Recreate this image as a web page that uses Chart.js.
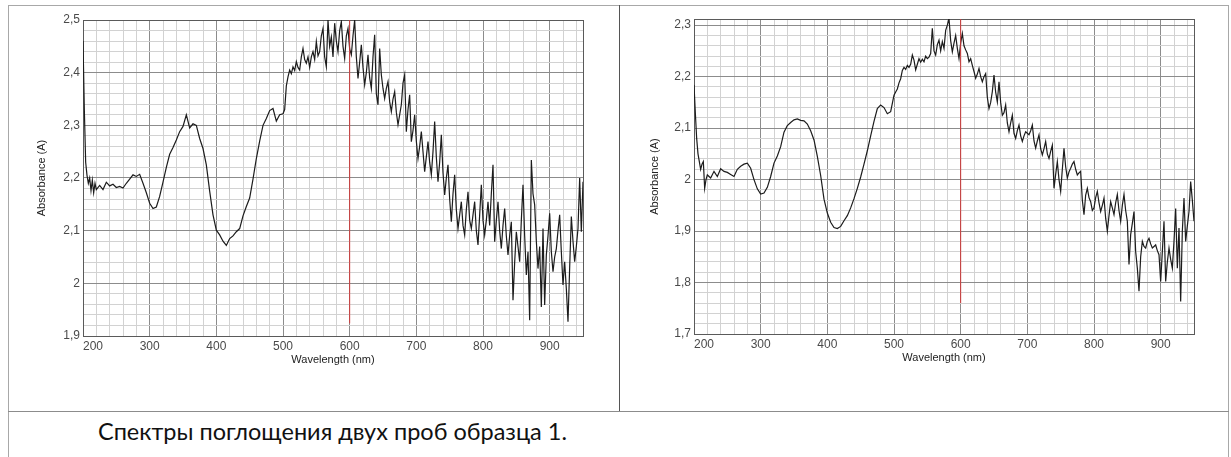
<!DOCTYPE html>
<html>
<head>
<meta charset="utf-8">
<script src="https://cdn.jsdelivr.net/npm/chart.js@4.4.0/dist/chart.umd.min.js"></script>
<style>
  html, body { margin: 0; padding: 0; background: #fff; }
  body { width: 1231px; height: 457px; position: relative; overflow: hidden; }
  .box { position: absolute; width: 610px; height: 380px; top: 0; }
  .line { position: absolute; background: #a8a8a8; z-index: 2; }
  #caption {
    position: absolute; left: 98px; top: 417px;
    font-family: Lato, "Noto Sans", sans-serif; font-size: 23.5px; color: #111;
    white-space: nowrap;
  }
</style>
</head>
<body>
<div class="line" style="left:8px;top:5px;width:1221px;height:1px;"></div>
<div class="line" style="left:8px;top:5px;width:1px;height:452px;"></div>
<div class="line" style="left:1228px;top:5px;width:1px;height:452px;"></div>
<div class="line" style="left:619px;top:5px;width:1px;height:406px;background:#555;"></div>
<div class="line" style="left:8px;top:411px;width:1221px;height:1px;background:#8c8c8c;"></div>

<div class="box" style="left:0;"><canvas id="chartA" width="610" height="380"></canvas></div>
<div class="box" style="left:611px;"><canvas id="chartB" width="610" height="380"></canvas></div>

<div id="caption">Спектры поглощения двух проб образца 1.</div>

<script>
// wavelengths (nm) shared by both spectra
const wavelength = [
  200, 202, 204, 206, 208, 210, 212, 214, 216, 218, 220,
  225, 230, 235, 240, 245, 250, 255, 260, 265, 270,
  275, 280, 285, 290, 295, 300, 305, 310, 315, 320,
  325, 330, 335, 340, 345, 350, 355, 360, 365, 370,
  375, 380, 385, 390, 395, 400, 405, 410, 415, 420,
  425, 430, 435, 440, 445, 450, 455, 460, 465, 470,
  475, 480, 485, 490, 495,
  500, 502.5, 505, 507.5, 510, 512.5, 515, 517.5, 520, 522.5,
  525, 527.5, 530, 532.5, 535, 537.5, 540, 542.5, 545, 547.5,
  550, 552.5, 555, 557.5, 560, 562.5, 565, 567.5, 570, 572.5,
  575, 577.5, 580, 582.5, 585, 587.5, 590, 592.5, 595, 597.5,
  600, 602.5, 605, 607.5, 610, 612.5, 615, 617.5, 620, 622.5,
  625, 627.5, 630, 632.5, 635, 637.5, 640, 642.5, 645, 647.5,
  650, 652.5, 655, 657.5, 660, 662.5, 665, 667.5, 670, 672.5,
  675, 677.5, 680, 682.5, 685, 687.5, 690, 692.5, 695, 697.5,
  700, 702.5, 705, 707.5, 710, 712.5, 715, 717.5, 720, 722.5,
  725, 727.5, 730, 732.5, 735, 737.5, 740, 742.5, 745, 747.5,
  750, 752.5, 755, 757.5, 760, 762.5, 765, 767.5, 770, 772.5,
  775, 777.5, 780, 782.5, 785, 787.5, 790, 792.5, 795, 797.5,
  800, 802.5, 805, 807.5, 810, 812.5, 815, 817.5, 820, 822.5,
  825, 827.5, 830, 832.5, 835, 837.5, 840, 842.5, 845, 847.5,
  850, 852.5, 855, 857.5, 860, 862.5, 865, 867.5, 870, 872.5,
  875, 877.5, 880, 882.5, 885, 887.5, 890, 892.5, 895, 897.5,
  900, 902.5, 905, 907.5, 910, 912.5, 915, 917.5, 920, 922.5,
  925, 927.5, 930, 932.5, 935, 937.5, 940, 942.5, 945, 947.5,
  950
];

// sample 1 absorbance
const absA = [
  2.46, 2.33, 2.23, 2.205, 2.19, 2.2, 2.176, 2.196, 2.172, 2.19, 2.178,
  2.186, 2.178, 2.192, 2.185, 2.188, 2.182, 2.184, 2.181, 2.19, 2.198,
  2.206, 2.203, 2.207, 2.19, 2.172, 2.152, 2.142, 2.145, 2.165, 2.192,
  2.22, 2.245, 2.258, 2.272, 2.288, 2.298, 2.32, 2.295, 2.303, 2.3,
  2.275, 2.256, 2.225, 2.175, 2.13, 2.101, 2.092, 2.08, 2.072, 2.085,
  2.09, 2.098, 2.104, 2.128, 2.146, 2.162, 2.198, 2.237, 2.27, 2.3,
  2.313, 2.328, 2.332, 2.308, 2.32,
  2.322, 2.33, 2.375, 2.392, 2.405, 2.398, 2.411, 2.404, 2.421, 2.41,
  2.405, 2.43, 2.446, 2.425, 2.418, 2.43, 2.41, 2.43, 2.44, 2.425,
  2.459, 2.432, 2.44, 2.47, 2.484, 2.43, 2.411, 2.5, 2.45, 2.468,
  2.43, 2.494, 2.46, 2.44, 2.48, 2.497, 2.45, 2.427, 2.47, 2.484,
  2.445, 2.434, 2.47, 2.5, 2.43, 2.389, 2.42, 2.453, 2.41, 2.377,
  2.4, 2.434, 2.39, 2.37, 2.43, 2.472, 2.36, 2.339, 2.446, 2.396,
  2.37, 2.351, 2.37, 2.383, 2.345, 2.326, 2.35, 2.364, 2.325, 2.301,
  2.32, 2.339, 2.38, 2.396, 2.288, 2.33, 2.358, 2.269, 2.29, 2.32,
  2.27, 2.237, 2.26, 2.288, 2.25, 2.212, 2.24, 2.269, 2.23, 2.206,
  2.25, 2.307, 2.24, 2.193, 2.23, 2.282, 2.21, 2.168, 2.2, 2.225,
  2.16, 2.117, 2.17, 2.206, 2.14, 2.104, 2.13, 2.155, 2.11, 2.092,
  2.14, 2.174, 2.12, 2.104, 2.13, 2.155, 2.1, 2.073, 2.13, 2.187,
  2.12, 2.092, 2.12, 2.155, 2.11, 2.17, 2.225, 2.079, 2.12, 2.155,
  2.1, 2.066, 2.11, 2.142, 2.09, 2.054, 2.09, 2.117, 1.968, 2.04,
  2.098, 2.07, 2.041, 2.12, 2.187, 2.09, 2.016, 2.06, 1.93, 2.234,
  2.17, 2.149, 2.08, 2.028, 2.07, 1.955, 2.104, 1.959, 2.054, 2.09,
  2.133, 2.06, 2.022, 2.05, 2.066, 2.1, 2.13, 2.06, 1.997, 2.041,
  1.99, 1.927, 2.03, 2.127, 2.08, 2.041, 2.07, 2.104, 2.2, 2.098,
  2.193
];

// sample 2 absorbance
const absB = [
  2.184, 2.13, 2.08, 2.05, 2.035, 2.02, 2.03, 2.035, 1.983, 2.0, 2.009,
  2.003, 2.016, 2.006, 2.021, 2.016, 2.014, 2.01, 2.006, 2.02, 2.026,
  2.03, 2.032, 2.022, 2.0, 1.982, 1.972, 1.974, 1.985, 2.006, 2.032,
  2.046, 2.064, 2.092, 2.105, 2.111, 2.116, 2.118, 2.115, 2.114, 2.108,
  2.095, 2.077, 2.045, 2.008, 1.962, 1.935, 1.917, 1.907, 1.905, 1.909,
  1.92, 1.93, 1.945, 1.963, 1.983, 2.005, 2.03, 2.056, 2.085, 2.113,
  2.138, 2.145, 2.14, 2.128, 2.132,
  2.164, 2.17, 2.176, 2.188, 2.196, 2.212, 2.218, 2.214, 2.222, 2.218,
  2.224, 2.242, 2.232, 2.213, 2.224, 2.235, 2.228, 2.234, 2.229, 2.24,
  2.235, 2.238, 2.245, 2.294, 2.25, 2.242, 2.262, 2.271, 2.25, 2.268,
  2.255, 2.29, 2.3, 2.313, 2.27, 2.248, 2.265, 2.28, 2.255, 2.235,
  2.265, 2.284, 2.26, 2.252, 2.245, 2.229, 2.235, 2.222, 2.21, 2.197,
  2.205, 2.216, 2.2, 2.19, 2.2, 2.206, 2.16, 2.138, 2.15, 2.171,
  2.203, 2.17, 2.151, 2.19, 2.15, 2.125, 2.13, 2.145, 2.11, 2.093,
  2.11, 2.125, 2.09, 2.08, 2.095, 2.106, 2.085, 2.074, 2.085, 2.093,
  2.09, 2.087, 2.095, 2.106, 2.075, 2.061, 2.075, 2.087, 2.06, 2.048,
  2.06, 2.074, 2.05, 2.041, 2.055, 2.067, 1.983, 2.01, 2.035, 2.0,
  1.977, 2.02, 2.061, 2.025, 2.003, 2.015, 2.022, 2.03, 2.035, 2.02,
  2.009, 2.013, 2.016, 1.96, 1.932, 1.97, 1.983, 1.965, 1.957, 1.94,
  1.945, 1.965, 1.977, 1.955, 1.938, 1.95, 1.964, 1.925, 1.9, 1.93,
  1.957, 1.945, 1.932, 1.955, 1.971, 1.94, 1.919, 1.95, 1.971, 1.94,
  1.919, 1.835, 1.893, 1.915, 1.938, 1.86, 1.828, 1.783, 1.85, 1.88,
  1.87, 1.867, 1.88, 1.886, 1.875, 1.867, 1.87, 1.873, 1.862, 1.854,
  1.802, 1.86, 1.919, 1.802, 1.84, 1.867, 1.845, 1.828, 1.88, 1.944,
  1.828, 1.906, 1.763, 1.9, 1.964, 1.88, 1.91, 1.938, 1.996, 1.96,
  1.919
];

// red cursor at 600 nm (bottom / top of the drawn segment)
const cursorWl = 600;
const cursorA = [1.924, 2.5];
const cursorB = [1.76, 2.312];

// axis ranges
const xRange = [200, 950];
const yRangeA = [1.9, 2.5];
const yRangeB = [1.7, 2.312];

const isMajor = (v, unit) => Math.abs(v / unit - Math.round(v / unit)) < 1e-6;

// frame round the plot area
const framePlugin = {
  id: 'frame',
  beforeDatasetsDraw(chart) {
    const a = chart.chartArea;
    const ctx = chart.ctx;
    ctx.save();
    ctx.strokeStyle = '#5a5a5a';
    ctx.lineWidth = 1;
    ctx.strokeRect(Math.round(a.left) + 0.5, Math.round(a.top) + 0.5,
      Math.round(a.right - a.left), Math.round(a.bottom - a.top));
    ctx.restore();
  }
};

function makeChart(id, values, yRange, cursor, padTop, xHeight, yTitlePad, xTitlePad) {
  const points = wavelength.map((w, i) => ({ x: w, y: values[i] }));
  const cursorPts = cursor.map(v => ({ x: cursorWl, y: v }));
  return new Chart(document.getElementById(id), {
    type: 'line',
    data: {
      datasets: [
        { data: cursorPts, borderColor: '#cf3a3a', borderWidth: 1, pointRadius: 0 },
        { data: points, borderColor: '#1c1c1c', borderWidth: 1.2, pointRadius: 0, tension: 0 }
      ]
    },
    options: {
      responsive: false,
      animation: false,
      devicePixelRatio: 1,
      layout: { padding: { top: padTop, right: 27, left: 0, bottom: 0 } },
      plugins: { legend: { display: false }, tooltip: { enabled: false } },
      scales: {
        x: {
          type: 'linear',
          min: xRange[0],
          max: xRange[1],
          afterFit: s => { s.height = xHeight; },
          border: { display: false },
          grid: {
            drawTicks: false,
            lineWidth: 1,
            color: c => isMajor(c.tick.value, 100) ? '#8c8c8c' : '#d2d2d2'
          },
          ticks: {
            stepSize: 20,
            includeBounds: false,
            autoSkip: false,
            maxRotation: 0,
            align: 'inner',
            padding: 3,
            color: '#4a4a4a',
            font: { family: 'Liberation Sans, Arial, sans-serif', size: 12 },
            callback: v => isMajor(v, 100) ? String(v) : ''
          },
          title: {
            display: true,
            text: 'Wavelength (nm)',
            color: '#222',
            padding: { top: 0, bottom: xTitlePad },
            font: { family: 'Liberation Sans, Arial, sans-serif', size: 11 }
          }
        },
        y: {
          min: yRange[0],
          max: yRange[1],
          afterFit: s => { s.width = 83; },
          border: { display: false },
          grid: {
            drawTicks: false,
            lineWidth: 1,
            color: c => isMajor(c.tick.value, 0.1) ? '#8c8c8c' : '#d2d2d2'
          },
          ticks: {
            stepSize: 0.02,
            includeBounds: false,
            autoSkip: false,
            padding: 3,
            color: '#4a4a4a',
            font: { family: 'Liberation Sans, Arial, sans-serif', size: 12 },
            callback: v => isMajor(v, 0.1) ? String(Math.round(v * 10) / 10).replace('.', ',') : ''
          },
          title: {
            display: true,
            text: 'Absorbance (A)',
            color: '#222',
            padding: { top: yTitlePad, bottom: 0 },
            font: { family: 'Liberation Sans, Arial, sans-serif', size: 11 }
          }
        }
      }
    },
    plugins: [framePlugin]
  });
}

makeChart('chartA', absA, yRangeA, cursorA, 20, 44, 35, 13);
makeChart('chartB', absB, yRangeB, cursorB, 19, 46, 37, 15);
</script>
</body>
</html>
